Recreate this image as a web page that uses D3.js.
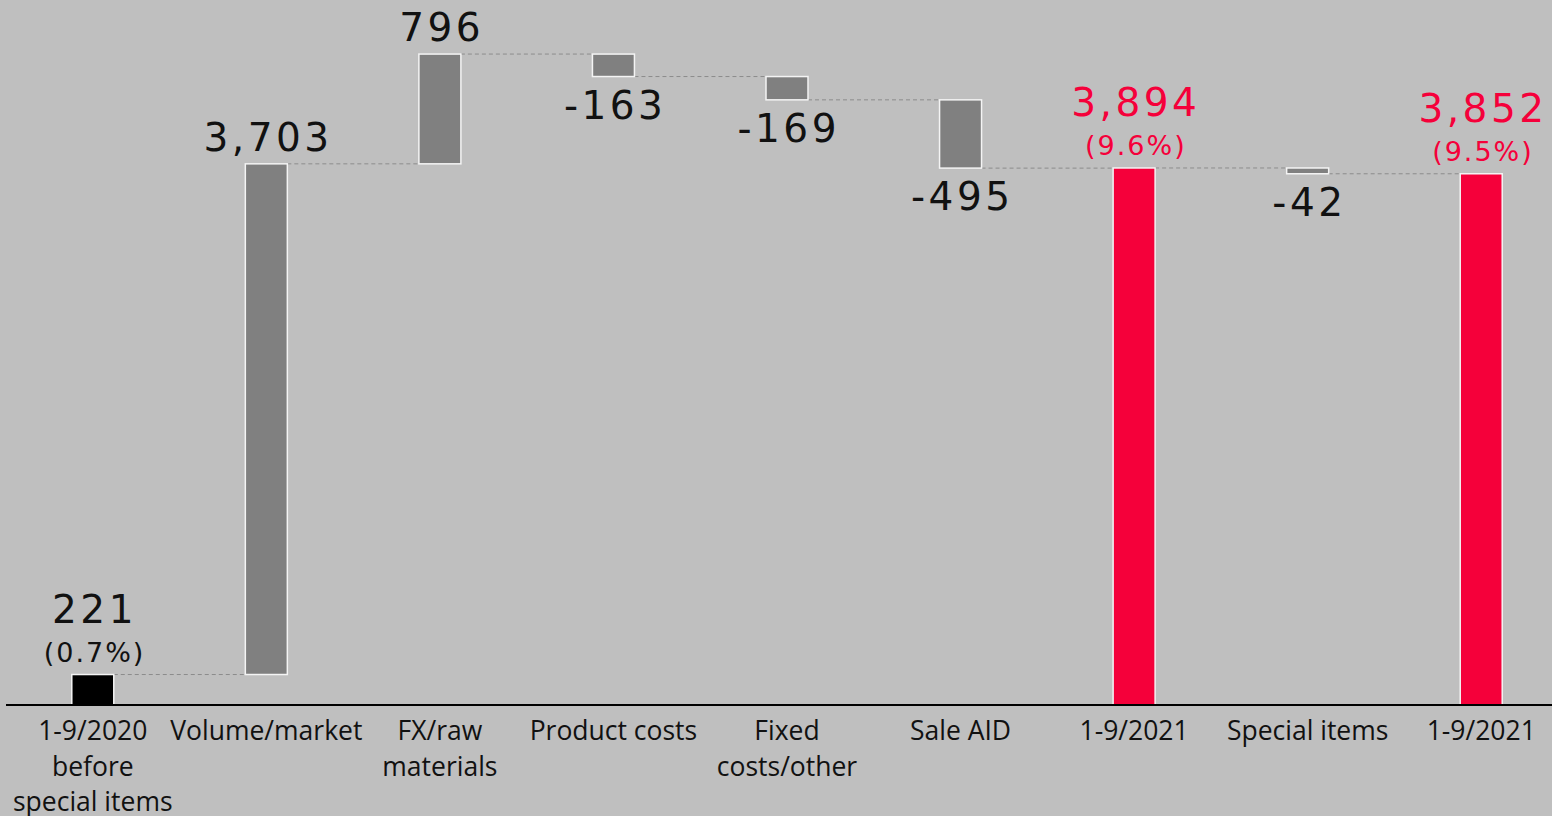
<!DOCTYPE html>
<html><head><meta charset="utf-8">
<script src="https://cdn.jsdelivr.net/npm/d3@7"></script>
<style>
html,body{margin:0;padding:0;background:#bfbfbf;}
svg{display:block;}
</style></head>
<body>
<svg id="chart" width="1552" height="816"></svg>
<script>
const categories = ["1-9/2020\nbefore\nspecial items", "Volume/market", "FX/raw\nmaterials", "Product costs", "Fixed\ncosts/other", "Sale AID", "1-9/2021", "Special items", "1-9/2021"];
const values = [221, 3703, 796, -163, -169, -495, 3894, -42, 3852];
const kinds = ["start", "delta", "delta", "delta", "delta", "delta", "total", "delta", "total"];
const valueLabels = ["221", "3,703", "796", "-163", "-169", "-495", "3,894", "-42", "3,852"];
const pctLabels = ["(0.7%)", "", "", "", "", "", "(9.6%)", "", "(9.5%)"];

const W = 1552, H = 816;
const svg = d3.select("#chart");
svg.append("rect").attr("width", W).attr("height", H).attr("fill", "#bfbfbf");

const x = d3.scaleBand().domain(d3.range(categories.length)).range([6, 1568]).paddingInner(0.758).paddingOuter(0.379);
const y = d3.scaleLinear().domain([0, 5112]).range([705, 0]);

let run = 0;
const bars = values.map((v, i) => {
  let lo, hi, end;
  if (kinds[i] === "start" || kinds[i] === "total") { lo = 0; hi = v; end = v; }
  else { const s = run; end = run + v; lo = Math.min(s, end); hi = Math.max(s, end); }
  run = end;
  return {i, v, lo, hi, end, kind: kinds[i]};
});

const fillFor = d => d.kind === "start" ? "#000000" : d.kind === "total" ? "#f5003a" : "#808080";
const textFor = d => d.kind === "total" ? "#f5003a" : "#111111";

const conn = svg.append("g");
bars.slice(0, -1).forEach((d, k) => {
  const nx = bars[k + 1];
  conn.append("line")
    .attr("x1", x(d.i) + x.bandwidth()).attr("x2", x(nx.i))
    .attr("y1", y(d.end)).attr("y2", y(d.end))
    .attr("stroke", "#8c8c8c").attr("stroke-width", 1).attr("stroke-dasharray", "4,3");
});

svg.append("g").selectAll("rect").data(bars).join("rect")
  .attr("x", d => x(d.i)).attr("width", x.bandwidth())
  .attr("y", d => y(d.hi)).attr("height", d => Math.max(1, y(d.lo) - y(d.hi)))
  .attr("fill", fillFor).attr("stroke", "#f4f4f4").attr("stroke-width", 1.5);

const lab = svg.append("g").attr("font-family", "DejaVu Sans").attr("text-anchor", "middle");
const VFS = 39, VLS = 3.5, PFS = 27, PLS = 2;
bars.forEach(d => {
  const cx = x(d.i) + x.bandwidth() / 2 + VLS / 2;
  const col = textFor(d);
  if (d.v >= 0) {
    if (pctLabels[d.i]) {
      lab.append("text").attr("x", cx).attr("y", y(d.hi) - 13)
        .attr("font-size", PFS).attr("letter-spacing", PLS).attr("fill", col).text(pctLabels[d.i]);
      lab.append("text").attr("x", cx).attr("y", y(d.hi) - 52)
        .attr("font-size", VFS).attr("letter-spacing", VLS).attr("fill", col).text(valueLabels[d.i]);
    } else {
      lab.append("text").attr("x", cx).attr("y", y(d.hi) - 13)
        .attr("font-size", VFS).attr("letter-spacing", VLS).attr("fill", col).text(valueLabels[d.i]);
    }
  } else {
    lab.append("text").attr("x", cx).attr("y", y(d.lo) + 42)
      .attr("font-size", VFS).attr("letter-spacing", VLS).attr("fill", col).text(valueLabels[d.i]);
  }
});

svg.append("line").attr("x1", 6).attr("x2", W).attr("y1", y(0)).attr("y2", y(0))
  .attr("stroke", "#000").attr("stroke-width", 2);

const cat = svg.append("g").attr("font-family", "Open Sans").attr("font-size", 26.5)
  .attr("fill", "#111").attr("text-anchor", "middle");
categories.forEach((c, i) => {
  const t = cat.append("text").attr("x", x(i) + x.bandwidth() / 2).attr("y", 740);
  c.split("\n").forEach((ln, j) => {
    t.append("tspan").attr("x", x(i) + x.bandwidth() / 2).attr("dy", j === 0 ? 0 : 35.5).text(ln);
  });
});
</script>
</body></html>
